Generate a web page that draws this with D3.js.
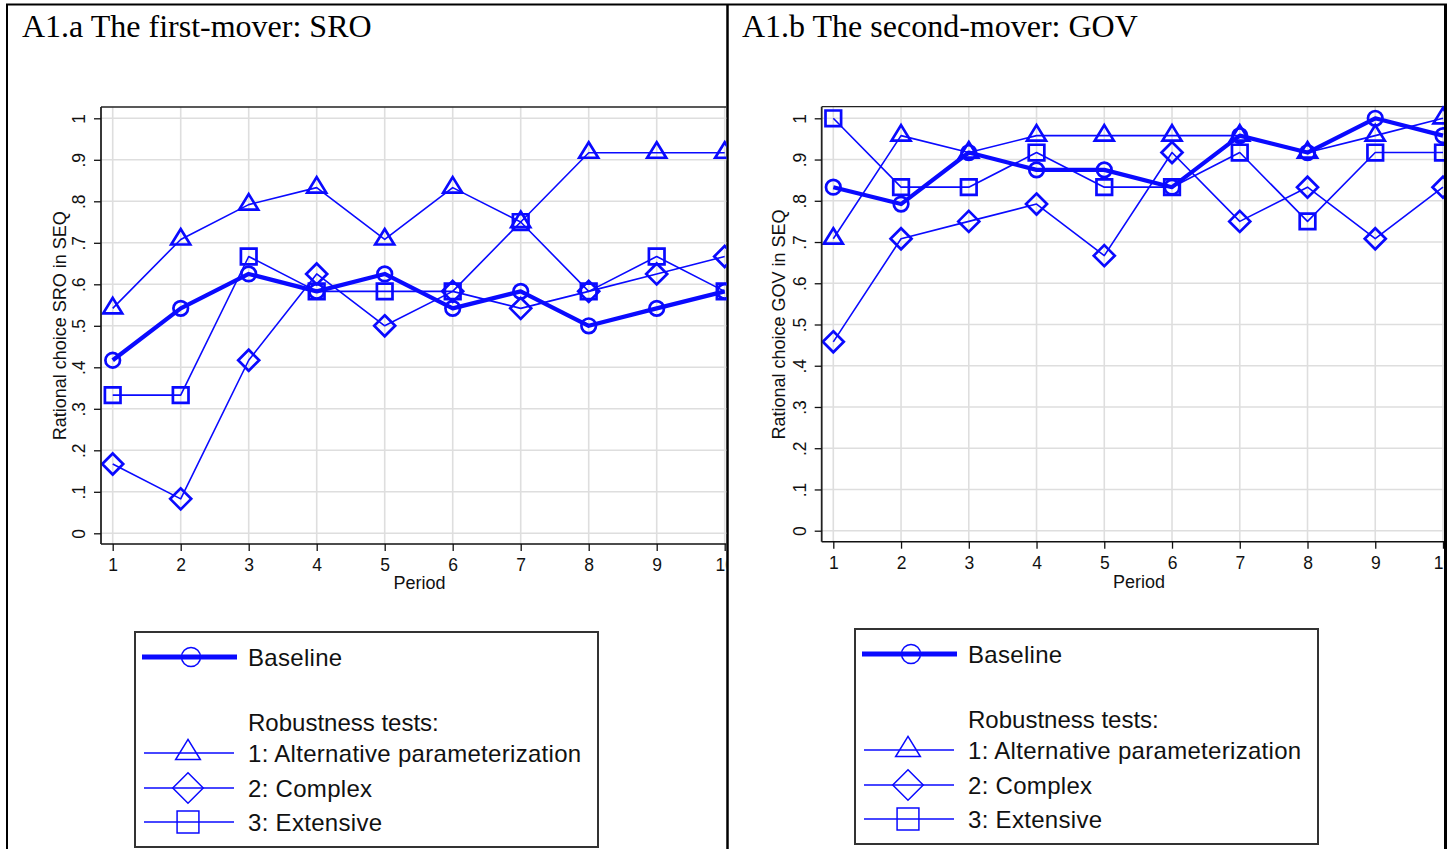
<!DOCTYPE html>
<html>
<head>
<meta charset="utf-8">
<script src="https://cdn.jsdelivr.net/npm/d3@7"></script>
<style>
  body { margin: 0; background: #fff; }
  svg { display: block; }
</style>
</head>
<body>
<div id="chart"></div>
<script>
const width = 1447
const height = 849

// data
const periods = [1, 2, 3, 4, 5, 6, 7, 8, 9, 10];
const yTicks = [0, .1, .2, .3, .4, .5, .6, .7, .8, .9, 1];
const yTickLabels = ["0", ".1", ".2", ".3", ".4", ".5", ".6", ".7", ".8", ".9", "1"];

const sroBaseline = [0.417, 0.542, 0.625, 0.583, 0.625, 0.542, 0.583, 0.500, 0.542, 0.583];
const sroAlternative = [0.542, 0.708, 0.792, 0.833, 0.708, 0.833, 0.750, 0.917, 0.917, 0.917];
const sroComplex = [0.167, 0.083, 0.417, 0.625, 0.500, 0.583, 0.542, 0.583, 0.625, 0.667];
const sroExtensive = [0.333, 0.333, 0.667, 0.583, 0.583, 0.583, 0.750, 0.583, 0.667, 0.583];

const govBaseline = [0.833, 0.792, 0.917, 0.875, 0.875, 0.833, 0.958, 0.917, 1.000, 0.958];
const govAlternative = [0.708, 0.958, 0.917, 0.958, 0.958, 0.958, 0.958, 0.917, 0.958, 1.000];
const govComplex = [0.458, 0.708, 0.750, 0.792, 0.667, 0.917, 0.750, 0.833, 0.708, 0.833];
const govExtensive = [1.000, 0.833, 0.833, 0.917, 0.833, 0.833, 0.917, 0.750, 0.917, 0.917];

const seriesNames = ["Baseline", "1: Alternative parameterization", "2: Complex", "3: Extensive"];
const seriesShapes = ["circle", "triangle", "diamond", "square"];

const blue = "#0a0aff";
const sansFont = "'Liberation Sans', Arial, sans-serif";

const svg = d3.select("#chart").append("svg")
	.attr("width", width)
	.attr("height", height);

// table borders
svg.append("line").attr("x1", 6).attr("x2", width).attr("y1", 4.5).attr("y2", 4.5)
	.attr("stroke", "#000").attr("stroke-width", 2);
svg.append("line").attr("x1", 7).attr("x2", 7).attr("y1", 4).attr("y2", height)
	.attr("stroke", "#000").attr("stroke-width", 2);
svg.append("line").attr("x1", 727.5).attr("x2", 727.5).attr("y1", 4).attr("y2", height)
	.attr("stroke", "#000").attr("stroke-width", 2.5);
svg.append("line").attr("x1", 1445.5).attr("x2", 1445.5).attr("y1", 4).attr("y2", height)
	.attr("stroke", "#000").attr("stroke-width", 3);

// symbol paths, centred on the point
function shapePath(shape, s) {
	if (shape === "circle") {
		let r = 7.3 * s;
		return `M${-r},0A${r},${r} 0 1,0 ${r},0A${r},${r} 0 1,0 ${-r},0Z`;
	}
	if (shape === "triangle") {
		return `M0,${-10.5 * s}L${9.5 * s},${5 * s}L${-9.5 * s},${5 * s}Z`;
	}
	if (shape === "diamond") {
		let d = 10.5 * s;
		return `M0,${-d}L${d},0L0,${d}L${-d},0Z`;
	}
	let h = 7.8 * s;
	return `M${-h},${-h}L${h},${-h}L${h},${h}L${-h},${h}Z`;
}

function panel(cfg) {
	const g = svg.append("g");

	const clipId = "clip" + cfg.id;
	svg.append("clipPath").attr("id", clipId)
		.append("rect").attr("x", cfg.clipLeft).attr("y", 0)
		.attr("width", cfg.clipRight - cfg.clipLeft).attr("height", height);

	g.append("text")
		.attr("x", cfg.titleX).attr("y", 37)
		.attr("font-family", "'Liberation Serif', 'Times New Roman', serif")
		.attr("font-size", 32)
		.text(cfg.title);

	const x = d3.scaleLinear().domain([1, 10]).range([cfg.x1, cfg.x10]);
	const y = d3.scaleLinear().domain([0, 1]).range([cfg.y0, cfg.y1]);

	const plot = g.append("g").attr("clip-path", `url(#${clipId})`);

	// grid
	plot.append("g").selectAll("line").data(yTicks).join("line")
		.attr("x1", cfg.axisX).attr("x2", cfg.clipRight)
		.attr("y1", d => y(d)).attr("y2", d => y(d))
		.attr("stroke", "#dedede").attr("stroke-width", 1.6);
	plot.append("g").selectAll("line").data(periods).join("line")
		.attr("x1", d => x(d)).attr("x2", d => x(d))
		.attr("y1", cfg.topY).attr("y2", cfg.axisY)
		.attr("stroke", "#dedede").attr("stroke-width", 1.6);

	// frame top
	plot.append("line").attr("x1", cfg.axisX).attr("x2", cfg.clipRight)
		.attr("y1", cfg.topY).attr("y2", cfg.topY)
		.attr("stroke", "#222").attr("stroke-width", 1.3);

	// axes
	const xAxis = d3.axisBottom(x).tickValues(periods).tickSize(7).tickPadding(8).tickFormat(d3.format("d"));
	const ax = plot.append("g")
		.attr("transform", `translate(0,${cfg.axisY})`)
		.call(xAxis);
	ax.select(".domain").attr("d", `M${cfg.axisX},0H${cfg.clipRight}`).attr("stroke", "#111").attr("stroke-width", 1.5);
	ax.selectAll(".tick line").attr("stroke", "#111").attr("stroke-width", 1.3);
	ax.selectAll(".tick text").attr("font-family", sansFont).attr("font-size", 17.5).attr("fill", "#111");

	const yAxis = d3.axisLeft(y).tickValues(yTicks).tickSize(7).tickPadding(0)
		.tickFormat((d, i) => yTickLabels[i]);
	const ay = g.append("g")
		.attr("transform", `translate(${cfg.axisX},0)`)
		.call(yAxis);
	ay.select(".domain").attr("d", `M0,${cfg.topY}V${cfg.axisY}`).attr("stroke", "#222").attr("stroke-width", 1.8);
	ay.selectAll(".tick line").attr("stroke", "#111").attr("stroke-width", 1.3);
	ay.selectAll(".tick text")
		.attr("font-family", sansFont).attr("font-size", 17.5).attr("fill", "#111")
		.attr("text-anchor", "middle")
		.attr("dy", null)
		.attr("x", null)
		.attr("transform", `translate(${cfg.tickLabelX - cfg.axisX},0) rotate(-90)`)
		.attr("dominant-baseline", "central");

	g.append("text")
		.attr("transform", `translate(${cfg.yTitleX},${(cfg.y0 + cfg.y1) / 2}) rotate(-90)`)
		.attr("text-anchor", "middle").attr("dominant-baseline", "central")
		.attr("font-family", sansFont).attr("font-size", 18).attr("fill", "#111")
		.text(cfg.yTitle);

	g.append("text")
		.attr("x", cfg.periodX).attr("y", cfg.periodY)
		.attr("text-anchor", "middle").attr("dominant-baseline", "central")
		.attr("font-family", sansFont).attr("font-size", 18).attr("fill", "#111")
		.text("Period");

	// series: draw robustness tests first, baseline on top
	const line = d3.line().x((d, i) => x(periods[i])).y(d => y(d));
	const order = [3, 2, 1, 0];
	order.forEach(k => {
		const vals = cfg.series[k];
		plot.append("path")
			.attr("d", line(vals))
			.attr("fill", "none")
			.attr("stroke", blue)
			.attr("stroke-width", k === 0 ? 4.2 : 1.6)
			.attr("stroke-linejoin", "round");
		plot.append("g").selectAll("path").data(vals).join("path")
			.attr("transform", (d, i) => `translate(${x(periods[i])},${y(d)})`)
			.attr("d", shapePath(seriesShapes[k], 1))
			.attr("fill", "none")
			.attr("stroke", blue)
			.attr("stroke-width", 2.7);
	});

	// legend
	const lg = g.append("g").attr("transform", `translate(${cfg.legendX},${cfg.legendY})`);
	lg.append("rect")
		.attr("x", 0).attr("y", 0).attr("width", 463).attr("height", 215)
		.attr("fill", "#fff").attr("stroke", "#333").attr("stroke-width", 2);
	const rows = [25, 121, 156, 190];
	seriesNames.forEach((name, k) => {
		const ry = rows[k];
		lg.append("line")
			.attr("x1", k === 0 ? 7 : 9).attr("x2", k === 0 ? 102 : 99)
			.attr("y1", ry).attr("y2", ry)
			.attr("stroke", blue).attr("stroke-width", k === 0 ? 5 : 1.6);
		const sc = k === 0 ? 1.3 : (k === 1 ? 1.3 : (k === 2 ? 1.45 : 1.4));
		lg.append("path")
			.attr("transform", `translate(${k === 0 ? 56 : 53},${ry})`)
			.attr("d", shapePath(seriesShapes[k], sc))
			.attr("fill", "none")
			.attr("stroke", blue).attr("stroke-width", 1.5);
		lg.append("text")
			.attr("x", 113).attr("y", ry)
			.attr("dominant-baseline", "central")
			.attr("font-family", sansFont).attr("font-size", 24).attr("fill", "#111")
			.attr("letter-spacing", 0.3)
			.text(name);
	});
	lg.append("text")
		.attr("x", 113).attr("y", 90)
		.attr("dominant-baseline", "central")
		.attr("font-family", sansFont).attr("font-size", 24).attr("fill", "#111")
		.text("Robustness tests:");
}

panel({
	id: "a", title: "A1.a The first-mover: SRO", titleX: 22,
	x1: 112.7, x10: 724.7, y0: 533.3, y1: 118.3,
	axisX: 101, axisY: 544, topY: 107,
	clipLeft: 0, clipRight: 726.5,
	tickLabelX: 79, yTitleX: 60,
	yTitle: "Rational choice SRO in SEQ",
	periodX: 419.5, periodY: 583,
	series: [sroBaseline, sroAlternative, sroComplex, sroExtensive],
	legendX: 135, legendY: 632
});

panel({
	id: "b", title: "A1.b The second-mover: GOV", titleX: 742,
	x1: 833.3, x10: 1443, y0: 530.7, y1: 118.3,
	axisX: 821.7, axisY: 541.7, topY: 106.7,
	clipLeft: 729, clipRight: 1444,
	tickLabelX: 800, yTitleX: 779,
	yTitle: "Rational choice GOV in SEQ",
	periodX: 1139, periodY: 581.5,
	series: [govBaseline, govAlternative, govComplex, govExtensive],
	legendX: 855, legendY: 629
});
</script>
</body>
</html>
